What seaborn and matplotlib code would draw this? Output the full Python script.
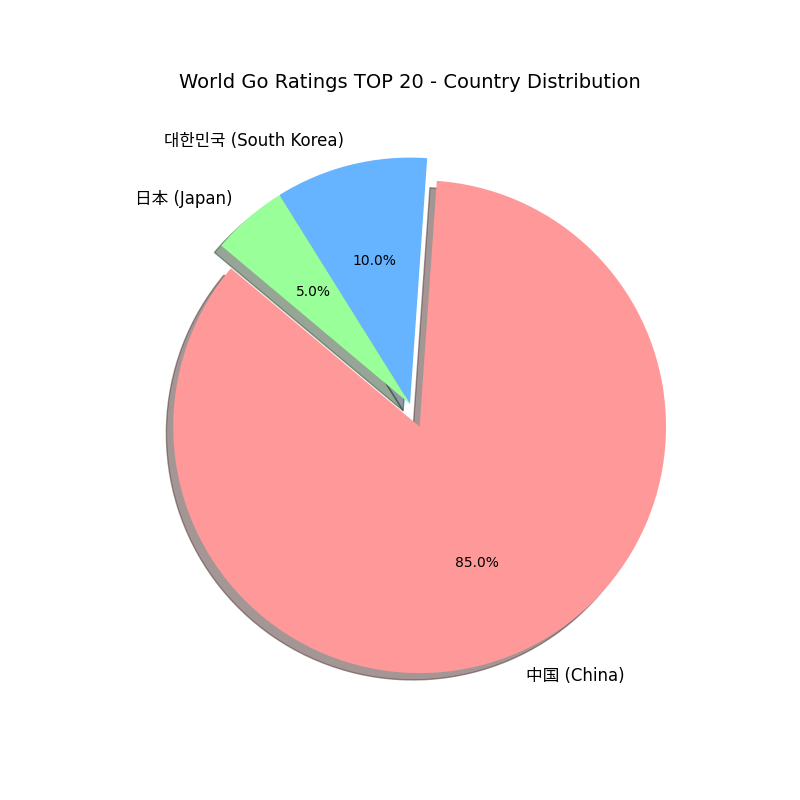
import matplotlib
matplotlib.use('Agg')
import matplotlib.pyplot as plt
import seaborn as sns

sns.set_style('white', rc={'patch.force_edgecolor': False, 'text.color': 'black'})
plt.rcParams['font.family'] = ['DejaVu Sans', 'Noto Sans CJK KR', 'Noto Sans CJK SC']

countries = ['中国 (China)', '대한민국 (South Korea)', '日本 (Japan)']
counts = [17, 2, 1]
colors = ['#ff9999', '#66b3ff', '#99ff99']
explode = (0.1, 0, 0)

fig, ax = plt.subplots(figsize=(8, 8), dpi=100)
wedges, texts, autotexts = ax.pie(
    counts,
    explode=explode,
    labels=countries,
    colors=colors,
    autopct='%1.1f%%',
    shadow=True,
    startangle=140,
)
for t in texts:
    t.set_fontsize(12)
for t in autotexts:
    t.set_fontsize(10)

ax.set_title('World Go Ratings TOP 20 - Country Distribution', fontsize=14)
plt.savefig('out.png')
